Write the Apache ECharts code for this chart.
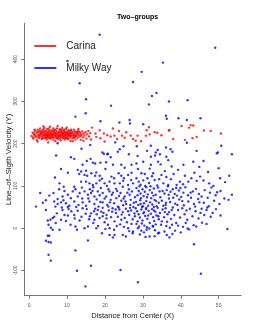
<!DOCTYPE html>
<html>
<head>
<meta charset="utf-8">
<script src="https://cdn.jsdelivr.net/npm/echarts@6/dist/echarts.min.js"></script>
<style>
html,body{margin:0;padding:0;background:#fff;}
#chart{width:253px;height:327px;}
</style>
</head>
<body>
<div id="chart"></div>
<script>
var seriesNames = ['Carina', 'Milky Way'];
var xTicks = [0, 10, 20, 30, 40, 50];
var yTicks = [-100, 0, 100, 200, 300, 400];

var carina = [
[0.6,218],[0.9,226],[1.1,212],[1.3,221],[1.5,230],[1.7,216],[1.9,224],[2.0,209],[2.2,233],[2.3,219],[2.5,227],[2.6,214],[2.8,222],[2.9,236],[3.0,217],[3.1,229],[3.3,211],[3.4,224],[3.5,219],[3.6,232],[3.7,215],[3.8,227],[3.9,221],[4.0,238],[4.1,213],[4.2,225],[4.3,218],[4.4,230],[4.5,222],[4.6,210],[4.7,234],[4.8,216],[4.9,227],[5.0,220],[5.1,213],[5.2,229],[5.3,223],[5.4,217],[5.5,240],[5.6,226],[5.7,212],[5.8,221],[5.9,231],[6.0,215],[6.1,224],[6.2,219],[6.3,236],[6.4,209],[6.5,228],[6.6,222],[6.7,216],[6.8,233],[6.9,220],[7.0,226],[7.1,213],[7.2,230],[7.3,218],[7.4,224],[7.5,242],[7.6,211],[7.7,227],[7.8,221],[7.9,215],[8.0,234],[8.1,219],[8.2,225],[8.3,208],[8.4,229],[8.5,217],[8.6,223],[8.7,237],[8.8,213],[8.9,226],[9.0,220],[9.1,231],[9.2,216],[9.3,224],[9.4,210],[9.5,228],[9.6,219],[9.7,235],[9.8,214],[9.9,222],[10.0,229],[10.1,217],[10.2,225],[10.3,211],[10.4,232],[10.5,220],[10.6,226],[10.7,215],[10.8,223],[10.9,207],[11.0,230],[11.1,218],[11.2,224],[11.4,213],[11.5,227],[11.6,220],[11.8,233],[11.9,216],[12.0,223],[12.2,210],[12.3,228],[12.5,219],[12.6,225],[12.8,214],[12.9,231],[13.1,221],[13.3,217],[13.5,226],[13.6,209],[13.8,222],[14.0,229],[14.2,215],[14.4,224],[14.6,219],[14.9,227],[15.1,212],[15.3,222],[15.6,230],[15.8,217],[16.1,225],[16.3,210],
[1.2,224],[1.6,219],[2.1,228],[2.4,215],[2.7,231],[3.2,223],[3.5,213],[3.8,234],[4.0,220],[4.3,228],[4.6,217],[4.9,224],[5.2,219],[5.4,232],[5.7,225],[6.0,221],[6.3,214],[6.5,231],[6.8,225],[7.1,219],[7.3,236],[7.6,222],[7.9,228],[8.1,213],[8.4,220],[8.7,227],[9.0,215],[9.2,233],[9.5,221],[9.8,226],[10.1,212],[10.3,223],[10.6,230],[10.9,218],[11.3,226],[11.7,214],[12.1,229],[12.4,218],[12.7,224],[13.2,228],[13.7,219],[2.6,220],[3.4,228],[4.4,214],[5.1,236],[5.9,218],[6.6,226],[7.4,214],[8.2,231],[8.9,222],[9.6,213],[10.4,219],[11.1,233],[11.9,221],[12.8,227],[3.0,225],[4.7,221],[6.2,229],[7.8,218],[9.3,227],[10.7,222],[12.0,217],[5.5,213],[8.5,233],[1.0,215],[1.4,233],[2.2,205],[6.9,206],[9.9,238],[11.5,206],[13.0,235],[14.3,207],[3.7,241],[5.0,203],
[16.6,238],[17.5,224],[17.7,216],[18.6,232],[19.7,224],[20.6,220],[21.5,217],[22.1,236],[22.5,219],[23.2,211],[23.7,230],[24.5,219],[25.2,214],[25.6,227],[26.8,219],[27.4,211],[19.9,205],[18.8,213],[28.6,219],[28.1,207],[29.5,206],[31.0,232],[31.6,239],[30.8,219],[31.8,222],[33.1,227],[33.8,226],[34.9,220],[36.9,231],[37.0,232],[38.0,211],[40.2,242],[42.2,238],[42.6,244],[43.3,243],[43.1,213],[44.2,216],[46.1,231],[47.9,230],[50.6,224],[41.1,209]
];

var milkyWay = [
[18.6,458],[49.1,427],[10.1,396],[35.3,392],[29.7,370],[13.3,343],[27.4,346],[33.6,320],[32.4,313],[15.0,305],[36.9,300],[41.8,303],[31.6,293],[21.6,290],[12.2,264],[14.9,272],[18.8,253],[23.8,250],[26.5,256],[26.6,248],[30.1,246],[36.1,266],[36.3,259],[39.4,260],[41.6,256],[45.2,260],
[7.5,201],[22.7,203],[41.6,202],
[7.1,172],[13.8,188],[16.1,197],[19.3,179],[20.6,175],[23.9,187],[24.9,194],[26.3,175],[28.4,194],[32.1,195],[31.1,183],[33.9,185],[33.4,179],[36.1,191],[37.3,187],[37.8,181],[44.2,183],[50.7,195],[49.8,179],[53.5,175],[34.5,175],[11.0,168],[11.9,164],[15.2,159],[16.2,164],[16.8,155],[17.4,153],[18.8,155],[19.7,176],[20.8,176],[21.5,168],[20.3,156],[22.1,150],[23.4,181],[24.3,150],[27.0,150],[28.6,171],[32.1,169],[33.2,172],[36.2,169],[28.3,153],[30.1,157],[32.1,150],[14.1,150],[34.0,157],[34.7,151],[36.7,161],[40.7,150],[43.3,157],[46.0,159],[49.5,177],
[25.2,143],[37.6,146],[39.3,138],[50.0,142],[8.4,140],[10.2,131],[12.8,138],[13.2,128],[13.7,134],[15.0,136],[14.6,126],[15.3,124],[16.4,130],[17.7,132],[17.4,124],[18.6,124],[21.7,122],[22.4,118],[23.6,130],[24.3,124],[25.0,118],[26.1,126],[27.0,131],[28.7,140],[29.6,130],[30.5,128],[32.7,130],[34.9,126],[28.3,118],[28.9,110],[30.1,113],[31.2,118],[33.1,114],[34.3,116],[35.4,106],[36.7,102],[37.4,116],[38.9,102],[39.8,110],[41.1,124],[42.0,110],[43.6,131],[44.2,112],[45.1,122],[47.5,106],[48.6,100],[50.4,118],[51.7,109],[52.8,124],[6.8,120],[8.0,106],[13.7,110],[15.0,110],[15.9,106],[16.8,102],[17.7,106],[18.6,113],[19.9,106],[21.2,110],[22.5,106],[23.9,106],[26.1,102],[27.4,106],[20.1,140],[31.8,141],[35.8,135],[44.9,145],[47.2,133],[29.4,103],[31.6,107],[33.8,101],[40.6,104],[42.8,118],[46.0,113],[24.8,112],[19.2,117],[26.9,114],[32.4,123],[38.1,128],[36.2,121],
[2.9,83],[5.3,77],[6.4,83],[7.5,69],[8.8,75],[10.2,79],[11.0,71],[11.5,87],[12.8,75],[13.3,83],[14.6,87],[9.1,98],[11.9,98],[6.6,63],[7.5,57],[8.4,61],[9.7,59],[10.6,53],[11.9,63],[13.0,55],[14.1,61],[1.8,51],[4.4,66],[9.3,88],[12.2,92],[14.0,70],[7.9,92],[3.6,60],
[15.5,79],[16.3,83],[17.2,75],[18.1,87],[19.4,83],[20.3,75],[21.2,87],[21.8,79],[23.0,71],[24.1,83],[25.2,75],[26.5,79],[27.1,87],[20.5,100],[24.7,98],[15.0,53],[15.9,63],[17.2,57],[18.3,51],[19.4,61],[20.6,55],[21.5,67],[22.4,59],[23.4,51],[24.3,65],[25.6,57],[26.8,67],[16.0,92],[18.9,95],[22.9,93],[26.3,92],[17.8,68],[19.9,70],[23.7,76],[25.9,84],[16.9,97],[27.6,60],[27.9,73],[15.6,70],[20.9,92],[24.8,54],[18.6,78],[22.1,84],
[28.3,95],[28.9,88],[29.4,82],[29.9,92],[30.5,86],[30.9,97],[31.3,80],[31.8,90],[32.4,84],[32.9,94],[33.4,79],[28.6,78],[30.2,76],[29.1,99],[32.0,99],[35.2,88],[35.7,82],[36.3,90],[36.8,79],[37.3,86],[37.9,92],[38.4,81],[39.0,77],[39.5,89],[40.7,84],[41.9,78],[43.2,87],[44.8,81],[46.3,90],[47.7,84],[49.2,78],[50.5,88],[53.5,79],[52.6,67],[28.2,62],[28.8,55],[29.3,66],[29.8,50],[30.3,59],[30.9,64],[31.4,53],[31.9,61],[32.5,56],[33.1,67],[33.6,52],[34.2,60],[35.0,65],[36.0,55],[37.2,62],[38.5,58],[39.6,68],[40.8,54],[42.0,63],[43.5,57],[44.6,69],[46.1,60],[47.4,52],[48.8,65],[50.2,57],[51.5,70],[34.6,73],[36.9,70],[38.8,95],[41.2,97],[42.7,72],[45.5,75],[48.1,96],[44.0,93],[40.1,74],[34.0,96],[36.6,99],
[4.4,43],[4.9,18],[5.6,20],[6.2,24],[6.6,27],[5.1,8],[5.7,1],[6.2,-4],[8.0,-4],[6.9,51],[8.6,49],[10.2,50],[12.4,50],[8.8,43],[9.3,31],[10.2,30],[8.4,20],[9.7,17],[10.9,8],[12.2,4],[12.6,-4],[13.3,18],[11.9,31],[12.8,41],[14.1,47],[14.6,0],[7.3,35],[11.1,40],[13.8,27],[7.0,12],
[15.5,4],[16.3,35],[17.2,20],[17.7,0],[18.1,43],[19.0,39],[20.8,8],[21.2,0],[22.5,16],[22.4,-4],[23.4,27],[24.3,20],[25.2,24],[26.1,0],[27.4,-8],[15.2,45],[16.0,28],[16.9,12],[17.8,33],[18.6,24],[19.4,48],[19.9,14],[20.4,31],[21.0,42],[21.6,26],[22.0,47],[22.9,36],[23.8,44],[24.0,9],[24.7,38],[25.5,46],[25.8,14],[26.4,31],[26.9,42],[27.3,21],[27.8,35],[18.2,5],[20.1,-2],[23.1,5],[25.0,3],[27.0,10],[15.8,21],[19.4,28],[21.9,39],[24.4,32],[26.6,48],[17.4,46],[20.9,51],[23.6,49],[27.5,50],
[28.1,47],[28.5,40],[28.9,33],[29.2,25],[29.6,44],[29.9,18],[30.3,38],[30.6,29],[30.9,48],[31.2,22],[31.5,41],[31.8,12],[32.1,34],[32.4,45],[32.7,26],[33.0,17],[33.3,39],[33.6,30],[33.9,48],[34.2,21],[34.5,36],[34.8,8],[28.3,10],[29.0,4],[29.7,11],[30.4,6],[31.1,2],[31.7,-1],[32.6,5],[33.4,9],[28.7,0],[31.0,-4],[32.7,4],[31.8,-20],[34.0,-12],[35.2,44],[35.6,26],[36.0,47],[36.4,15],[36.9,38],[37.4,22],[37.9,49],[38.3,31],[38.8,12],[39.3,43],[39.8,25],[40.4,47],[41.0,33],[41.7,20],[42.4,46],[43.1,28],[43.9,40],[44.7,23],[45.5,46],[46.2,31],[47.0,49],[47.9,27],[36.2,5],[37.1,1],[38.5,-6],[39.3,6],[40.6,3],[41.8,-1],[43.4,7],[44.1,4],[35.7,-8],[37.8,-14],[40.0,-10],[42.2,-3],[45.6,13],[48.4,36],[49.3,45],[50.5,30],[46.8,10],[30.0,52],[32.9,50],[35.4,53],
[4.9,-18],[4.4,-30],[5.1,-33],[5.7,-34],[5.3,-18],[5.1,-63],[5.7,-77],[12.2,-53],[15.5,-29],[16.3,-89],[12.6,-101],[14.85,-138],[24.1,-99],[28.7,-128],[43.5,-38],[45.3,-108],[52.3,-2],[21.2,-16],[24.7,-16],[27.3,-12],[25.5,-20],[22.1,-22],[19.2,-12],[29.2,-15],[33.1,-19],[36.3,-16],[26.4,-7],[30.3,-10],[37.0,-22],[30.7,-21],[22.5,-16],[34.3,-11],
[29.5,71],[31.1,73],[32.8,77],[34.4,87],[30.1,35],[31.4,30],[32.9,42],[34.1,28],[29.4,57],[30.8,45],[33.5,64],[35.8,38],[37.6,43],[39.1,55],[36.5,33],[38.0,72],[40.4,64],[41.5,42],[43.8,51],[45.2,36],[42.6,84],[26.1,40],[24.9,70],[22.8,44],[21.3,61],[19.6,36],[18.8,62],[23.2,88],[25.4,63],[27.9,28],[28.6,16],[35.0,16],[37.7,8],[33.2,-5],[29.6,-6],[26.7,55],[20.4,23],[17.1,40],[14.9,34],[12.0,23],[10.4,45],[9.0,66],[16.7,88],[13.9,96],[44.9,61],[47.1,72],[49.6,85],[46.8,43],[39.9,95],[41.3,12],[36.1,60],[32.2,71],[30.6,100]
];

var FONT = '"Liberation Sans", Arial, sans-serif';
var chart = echarts.init(document.getElementById('chart'), null, {renderer: 'canvas'});
var option = {
  animation: false,
  backgroundColor: '#ffffff',
  title: {
    text: 'Two–groups',
    left: 132.6, top: 9, textAlign: 'center',
    textStyle: {fontFamily: FONT, fontSize: 7, fontWeight: 'bold', color: '#000'}
  },
  legend: {
    data: seriesNames,
    orient: 'vertical',
    left: 34.3, top: 40,
    padding: 0,
    itemGap: 10,
    itemWidth: 22, itemHeight: 2,
    icon: 'rect',
    textStyle: {fontFamily: FONT, fontSize: 10, lineHeight: 12, color: '#222', padding: [0,0,0,5]}
  },
  grid: {left: 24.3, right: 12, top: 23.3, bottom: 31.3, containLabel: false, outerBoundsMode: 'none'},
  xAxis: {
    type: 'value', min: -1.3, max: 55.9,
    name: 'Distance from Center (X)', nameLocation: 'middle', nameGap: 16.5, nameMoveOverlap: false,
    nameTextStyle: {fontFamily: FONT, fontSize: 7.5, color: '#222'},
    axisLine: {show: true, onZero: false, lineStyle: {color: '#777', width: 1}},
    axisTick: {show: true, length: 3, customValues: xTicks, lineStyle: {color: '#777'}},
    axisLabel: {customValues: xTicks, fontFamily: FONT, fontSize: 5, color: '#555', margin: 7},
    splitLine: {show: false}
  },
  yAxis: {
    type: 'value', min: -160, max: 485,
    name: 'Line–of–Sigth Velocity (Y)', nameLocation: 'middle', nameGap: 12, nameMoveOverlap: false,
    nameTextStyle: {fontFamily: FONT, fontSize: 8, color: '#222'},
    axisLine: {show: true, onZero: false, lineStyle: {color: '#777', width: 1}},
    axisTick: {show: true, length: 3, customValues: yTicks, lineStyle: {color: '#777'}},
    axisLabel: {customValues: yTicks, rotate: 90, fontFamily: FONT, fontSize: 5, color: '#555', margin: 6},
    splitLine: {show: false}
  },
  series: [
    {name: seriesNames[1], type: 'scatter', data: milkyWay, symbol: 'circle', symbolSize: 2.4,
     itemStyle: {color: '#0000ff'}, silent: true},
    {name: seriesNames[0], type: 'scatter', data: carina, symbol: 'circle', symbolSize: 2.4,
     itemStyle: {color: '#ff0000'}, silent: true}
  ]
};
chart.setOption(option);
</script>
</body>
</html>
